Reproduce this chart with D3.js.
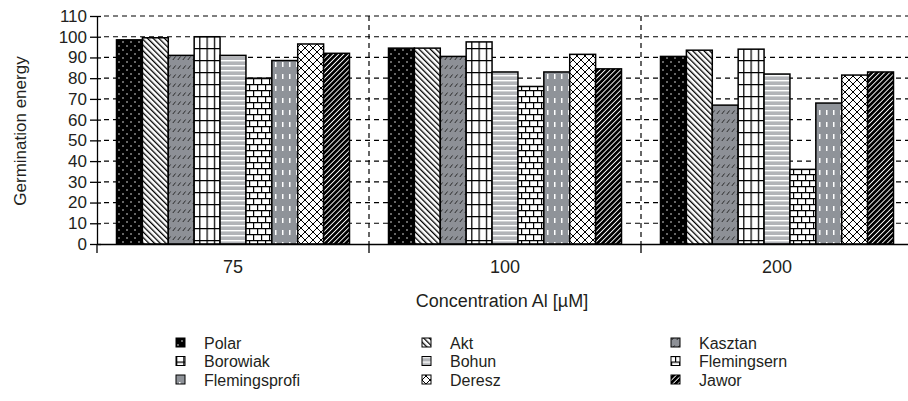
<!DOCTYPE html>
<html><head><meta charset="utf-8">
<script src="https://cdn.jsdelivr.net/npm/d3@7"></script>
<style>
html,body{margin:0;padding:0;background:#fff;}
text{font-family:"Liberation Sans",Arial,sans-serif;fill:#231f20;}
</style></head>
<body><svg id="c" width="908" height="401"></svg>
<script>
const categories = ["75", "100", "200"];
const series = ["Polar","Akt","Kasztan","Borowiak","Bohun","Flemingsern","Flemingsprofi","Deresz","Jawor"];
const values = {
  "Polar":         [98.5, 94.5, 90.5],
  "Akt":           [99.5, 94.5, 93.5],
  "Kasztan":       [91.0, 90.5, 67.0],
  "Borowiak":      [100.0, 97.5, 94.0],
  "Bohun":         [91.0, 83.0, 82.0],
  "Flemingsern":   [80.0, 76.0, 36.0],
  "Flemingsprofi": [88.5, 83.0, 68.0],
  "Deresz":        [96.5, 91.5, 81.5],
  "Jawor":         [92.0, 84.5, 83.0]
};
const yTicks = [0,10,20,30,40,50,60,70,80,90,100,110];

const svg = d3.select("#c");
const defs = svg.append("defs");
function pat(id, w, h, tf){
  const p = defs.append("pattern").attr("id", id).attr("patternUnits","userSpaceOnUse")
    .attr("width", w).attr("height", h);
  if (tf) p.attr("patternTransform", tf);
  return p;
}
// Polar
let p = pat("p-Polar", 8, 8);
p.append("rect").attr("width",8).attr("height",8).attr("fill","#000");
p.append("circle").attr("cx",2).attr("cy",2).attr("r",0.75).attr("fill","#fff");
p.append("circle").attr("cx",6).attr("cy",6).attr("r",0.75).attr("fill","#fff");
// Akt
p = pat("p-Akt", 4, 4, "rotate(-45)");
p.append("rect").attr("width",4).attr("height",4).attr("fill","#fff");
p.append("rect").attr("width",1.3).attr("height",4).attr("fill","#000");
// Kasztan
p = pat("p-Kasztan", 5, 9);
p.append("rect").attr("width",5).attr("height",9).attr("fill","#8d9096");
p.append("path").attr("d","M0.8,6 L3.6,2.5").attr("stroke","#2a2a2a").attr("stroke-width",1);
// Borowiak
p = pat("p-Borowiak", 7.3, 12);
p.append("rect").attr("width",7.3).attr("height",12).attr("fill","#fff");
p.append("path").attr("d","M0.6,0 V12 M0,0.6 H7.3").attr("stroke","#000").attr("stroke-width",1.3);
// Bohun
p = pat("p-Bohun", 5, 5);
p.append("rect").attr("width",5).attr("height",5).attr("fill","#b2b4b8");
p.append("rect").attr("width",5).attr("height",1.4).attr("fill","#fff");
// Flemingsern
p = pat("p-Flemingsern", 16, 12);
p.append("rect").attr("width",16).attr("height",12).attr("fill","#fff");
p.append("path").attr("d","M0,0.6 H16 M0,6.6 H16 M0.6,0 V6 M8.6,0 V6 M4.6,6 V12 M12.6,6 V12")
  .attr("stroke","#000").attr("stroke-width",1.2);
// Flemingsprofi
p = pat("p-Flemingsprofi", 7, 12);
p.append("rect").attr("width",7).attr("height",12).attr("fill","#8f9399");
p.append("rect").attr("x",3).attr("y",2).attr("width",1.5).attr("height",5).attr("fill","#fff");
// Deresz
p = pat("p-Deresz", 8, 8);
p.append("rect").attr("width",8).attr("height",8).attr("fill","#fff");
p.append("path").attr("d","M0,0 L8,8 M8,0 L0,8").attr("stroke","#000").attr("stroke-width",1);
// Jawor
p = pat("p-Jawor", 3.6, 4, "rotate(45)");
p.append("rect").attr("width",3.6).attr("height",4).attr("fill","#000");
p.append("rect").attr("width",0.9).attr("height",4).attr("fill","#fff");

const x0 = d3.scaleBand().domain(categories).range([97, 913]).padding(0);
const x1 = d3.scaleBand().domain(series).range([19.5, x0.bandwidth()-19.5]).padding(0);
const y = d3.scaleLinear().domain([0,110]).range([244,16]);

// gridlines
const g = svg.append("g");
g.selectAll("line.grid").data(yTicks.filter(d=>d>0)).join("line")
  .attr("x1",104).attr("x2",913).attr("y1",d=>y(d)).attr("y2",d=>y(d))
  .attr("stroke","#000").attr("stroke-width",1.2).attr("stroke-dasharray","5,4");
g.selectAll("line.vgrid").data(categories.slice(1)).join("line")
  .attr("x1",d=>x0(d)).attr("x2",d=>x0(d)).attr("y1",y(110)).attr("y2",y(0))
  .attr("stroke","#000").attr("stroke-width",1.2).attr("stroke-dasharray","5,4");

// bars
const groups = svg.append("g").selectAll("g").data(categories).join("g")
  .attr("transform", d=>`translate(${x0(d)},0)`);
groups.selectAll("rect").data((c,i)=>series.map(s=>({s, v: values[s][i]}))).join("rect")
  .attr("x", d=>x1(d.s)).attr("width", x1.bandwidth())
  .attr("y", d=>y(d.v)).attr("height", d=>y(0)-y(d.v))
  .attr("fill", d=>`url(#p-${d.s})`).attr("stroke","#000").attr("stroke-width",1.5);

// y axis
const ya = svg.append("g").attr("transform","translate(97,0)")
  .call(d3.axisLeft(y).tickValues(yTicks).tickSizeInner(7).tickSizeOuter(0).tickPadding(3));
ya.select(".domain").attr("stroke","#000").attr("stroke-width",1.3);
ya.selectAll(".tick line").attr("stroke","#000").attr("stroke-width",1.3).attr("x2",-7).attr("x1",4);
ya.selectAll(".tick text").attr("font-size",17).attr("fill","#231f20").attr("font-family","Liberation Sans, Arial, sans-serif");

// x axis
const xa = svg.append("g").attr("transform",`translate(0,${y(0)})`)
  .call(d3.axisBottom(x0).tickSize(0).tickPadding(16));
xa.select(".domain").attr("stroke","#000").attr("stroke-width",1.3);
xa.selectAll(".tick text").attr("font-size",18).attr("fill","#231f20").attr("font-family","Liberation Sans, Arial, sans-serif");
svg.append("g").selectAll("line").data(categories.map(c=>x0(c))).join("line")
  .attr("x1",d=>d).attr("x2",d=>d).attr("y1",y(0)).attr("y2",y(0)+9)
  .attr("stroke","#000").attr("stroke-width",1.3);

// axis titles
svg.append("text").attr("transform","translate(20,131) rotate(-90)")
  .attr("text-anchor","middle").attr("dominant-baseline","central").attr("font-size",17)
  .text("Germination energy");
svg.append("text").attr("x",502).attr("y",301)
  .attr("text-anchor","middle").attr("dominant-baseline","central").attr("font-size",18)
  .text("Concentration Al [\u00b5M]");

// legend
const colX = [176, 422, 671];
const rowY = [343, 361.5, 380];
const lg = svg.append("g").selectAll("g").data(series).join("g")
  .attr("transform",(d,i)=>`translate(${colX[i%3]},${rowY[Math.floor(i/3)]})`);
lg.append("rect").attr("x",0).attr("y",-5).attr("width",9).attr("height",9)
  .attr("fill",d=>`url(#p-${d})`).attr("stroke","#000").attr("stroke-width",1);
lg.append("text").attr("x",28).attr("y",0).attr("dominant-baseline","central")
  .attr("font-size",16).text(d=>d);
</script></body></html>
